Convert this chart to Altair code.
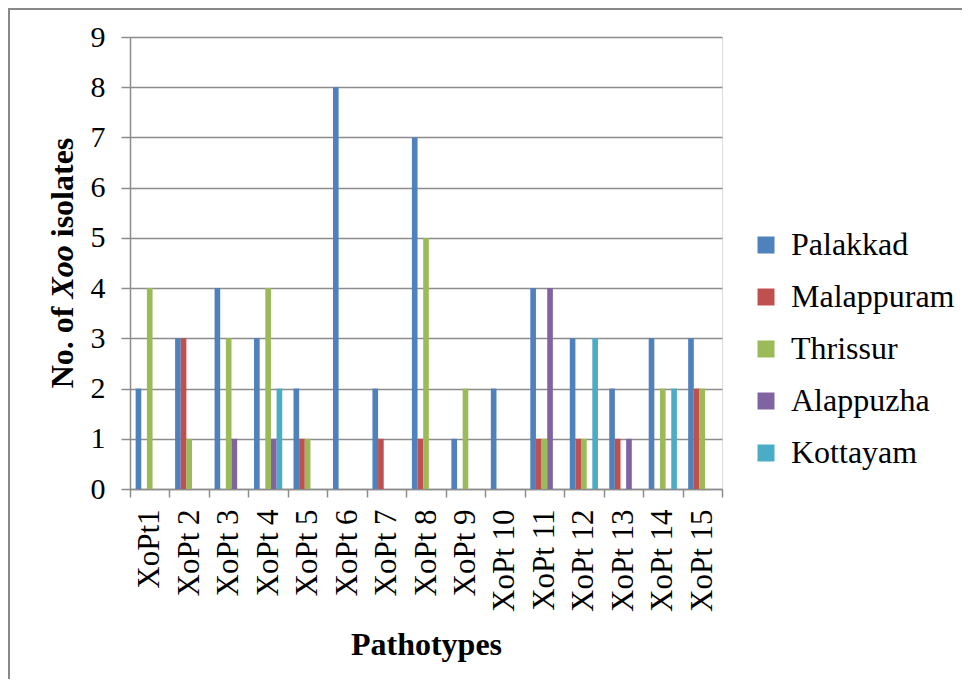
import altair as alt
import pandas as pd

categories = ["XoPt1", "XoPt 2", "XoPt 3", "XoPt 4", "XoPt 5", "XoPt 6", "XoPt 7", "XoPt 8",
              "XoPt 9", "XoPt 10", "XoPt 11", "XoPt 12", "XoPt 13", "XoPt 14", "XoPt 15"]
series = ["Palakkad", "Malappuram", "Thrissur", "Alappuzha", "Kottayam"]
palakkad = [2, 3, 4, 3, 2, 8, 2, 7, 1, 2, 4, 3, 2, 3, 3]
malappuram = [0, 3, 0, 0, 1, 0, 1, 1, 0, 0, 1, 1, 1, 0, 2]
thrissur = [4, 1, 3, 4, 1, 0, 0, 5, 2, 0, 1, 1, 0, 2, 2]
alappuzha = [0, 0, 1, 1, 0, 0, 0, 0, 0, 0, 4, 0, 1, 0, 0]
kottayam = [0, 0, 0, 2, 0, 0, 0, 0, 0, 0, 0, 3, 0, 2, 0]
colors = ["#4F81BD", "#C0504D", "#9BBB59", "#8064A2", "#4BACC6"]
y_ticks = list(range(0, 10))

values = [palakkad, malappuram, thrissur, alappuzha, kottayam]
rows = []
for s, vals in zip(series, values):
    for c, v in zip(categories, vals):
        rows.append({"Pathotype": c, "District": s, "Count": v})
df = pd.DataFrame(rows)

W, H = 592, 452
FONT = "Liberation Serif"
GRID = "#8c8c8c"

bars = alt.Chart(df).mark_bar().encode(
    x=alt.X("Pathotype:N", sort=categories,
            scale=alt.Scale(paddingInner=0, paddingOuter=0),
            axis=alt.Axis(title="Pathotypes", labelAngle=270, labelFontSize=31,
                          labelFont=FONT, labelColor="black", labelPadding=12,
                          tickBand="extent", tickSize=8, tickColor=GRID, tickWidth=1.5,
                          domainColor=GRID, domainWidth=1.5, grid=False,
                          titleFont=FONT, titleFontSize=32, titleFontWeight="bold",
                          titleColor="black", titlePadding=18)),
    xOffset=alt.XOffset("District:N", sort=series,
                        scale=alt.Scale(paddingInner=0, paddingOuter=1)),
    y=alt.Y("Count:Q", scale=alt.Scale(domain=[0, 9], nice=False),
            axis=alt.Axis(title=None, values=y_ticks, labelFontSize=30, labelFont=FONT,
                          labelColor="black", labelPadding=16, tickSize=9,
                          tickColor=GRID, tickWidth=1.5, domainColor=GRID,
                          domainWidth=1.5, gridColor=GRID, gridWidth=1.5)),
    color=alt.Color("District:N", sort=series,
                    scale=alt.Scale(domain=series, range=colors),
                    legend=alt.Legend(title=None, orient="none", legendX=620, legendY=192,
                                      padding=0, labelFont=FONT, labelFontSize=32,
                                      labelColor="black", labelLimit=400,
                                      symbolType="square", symbolSize=289,
                                      symbolStrokeWidth=0, rowPadding=20,
                                      labelOffset=9)),
)

one = pd.DataFrame({"k": [0]})
# y-axis title pieces (bold + bold italic)
fs = 32
w_no_of = 2.555 * fs
w_space = 0.25 * fs
w_xoo = 1.667 * fs
w_iso = 3.111 * fs
total = w_no_of + w_space + w_xoo + w_space + w_iso
start = H / 2 + total / 2
p1 = start
p2 = start - w_no_of - w_space
p3 = p2 - w_xoo - w_space
title_x = -67

def ytitle(txt, ypos, style="normal"):
    return alt.Chart(one).mark_text(
        angle=270, align="left", baseline="middle", font=FONT, fontSize=fs,
        fontWeight="bold", fontStyle=style, color="black"
    ).encode(x=alt.value(title_x), y=alt.value(ypos), text=alt.value(txt))

t1 = ytitle("No. of", p1)
t2 = ytitle("Xoo", p2, "italic")
t3 = ytitle("isolates", p3)

border_v = alt.Chart(one).mark_rule(color="#888888", strokeWidth=2).encode(
    x=alt.value(-121), y=alt.value(-28), y2=alt.value(H + 190))
border_h = alt.Chart(one).mark_rule(color="#888888", strokeWidth=2).encode(
    x=alt.value(-122), x2=alt.value(W + 240), y=alt.value(-28))

chart = alt.layer(bars, t1, t2, t3, border_v, border_h).properties(
    width=W, height=H,
    autosize=alt.AutoSizeParams(type="none"),
    padding={"left": 122, "top": 29, "right": 240, "bottom": 190},
).configure_view(stroke=None).configure(background="white")

chart.save("out.html", embed_options={"renderer": "svg", "actions": False})
